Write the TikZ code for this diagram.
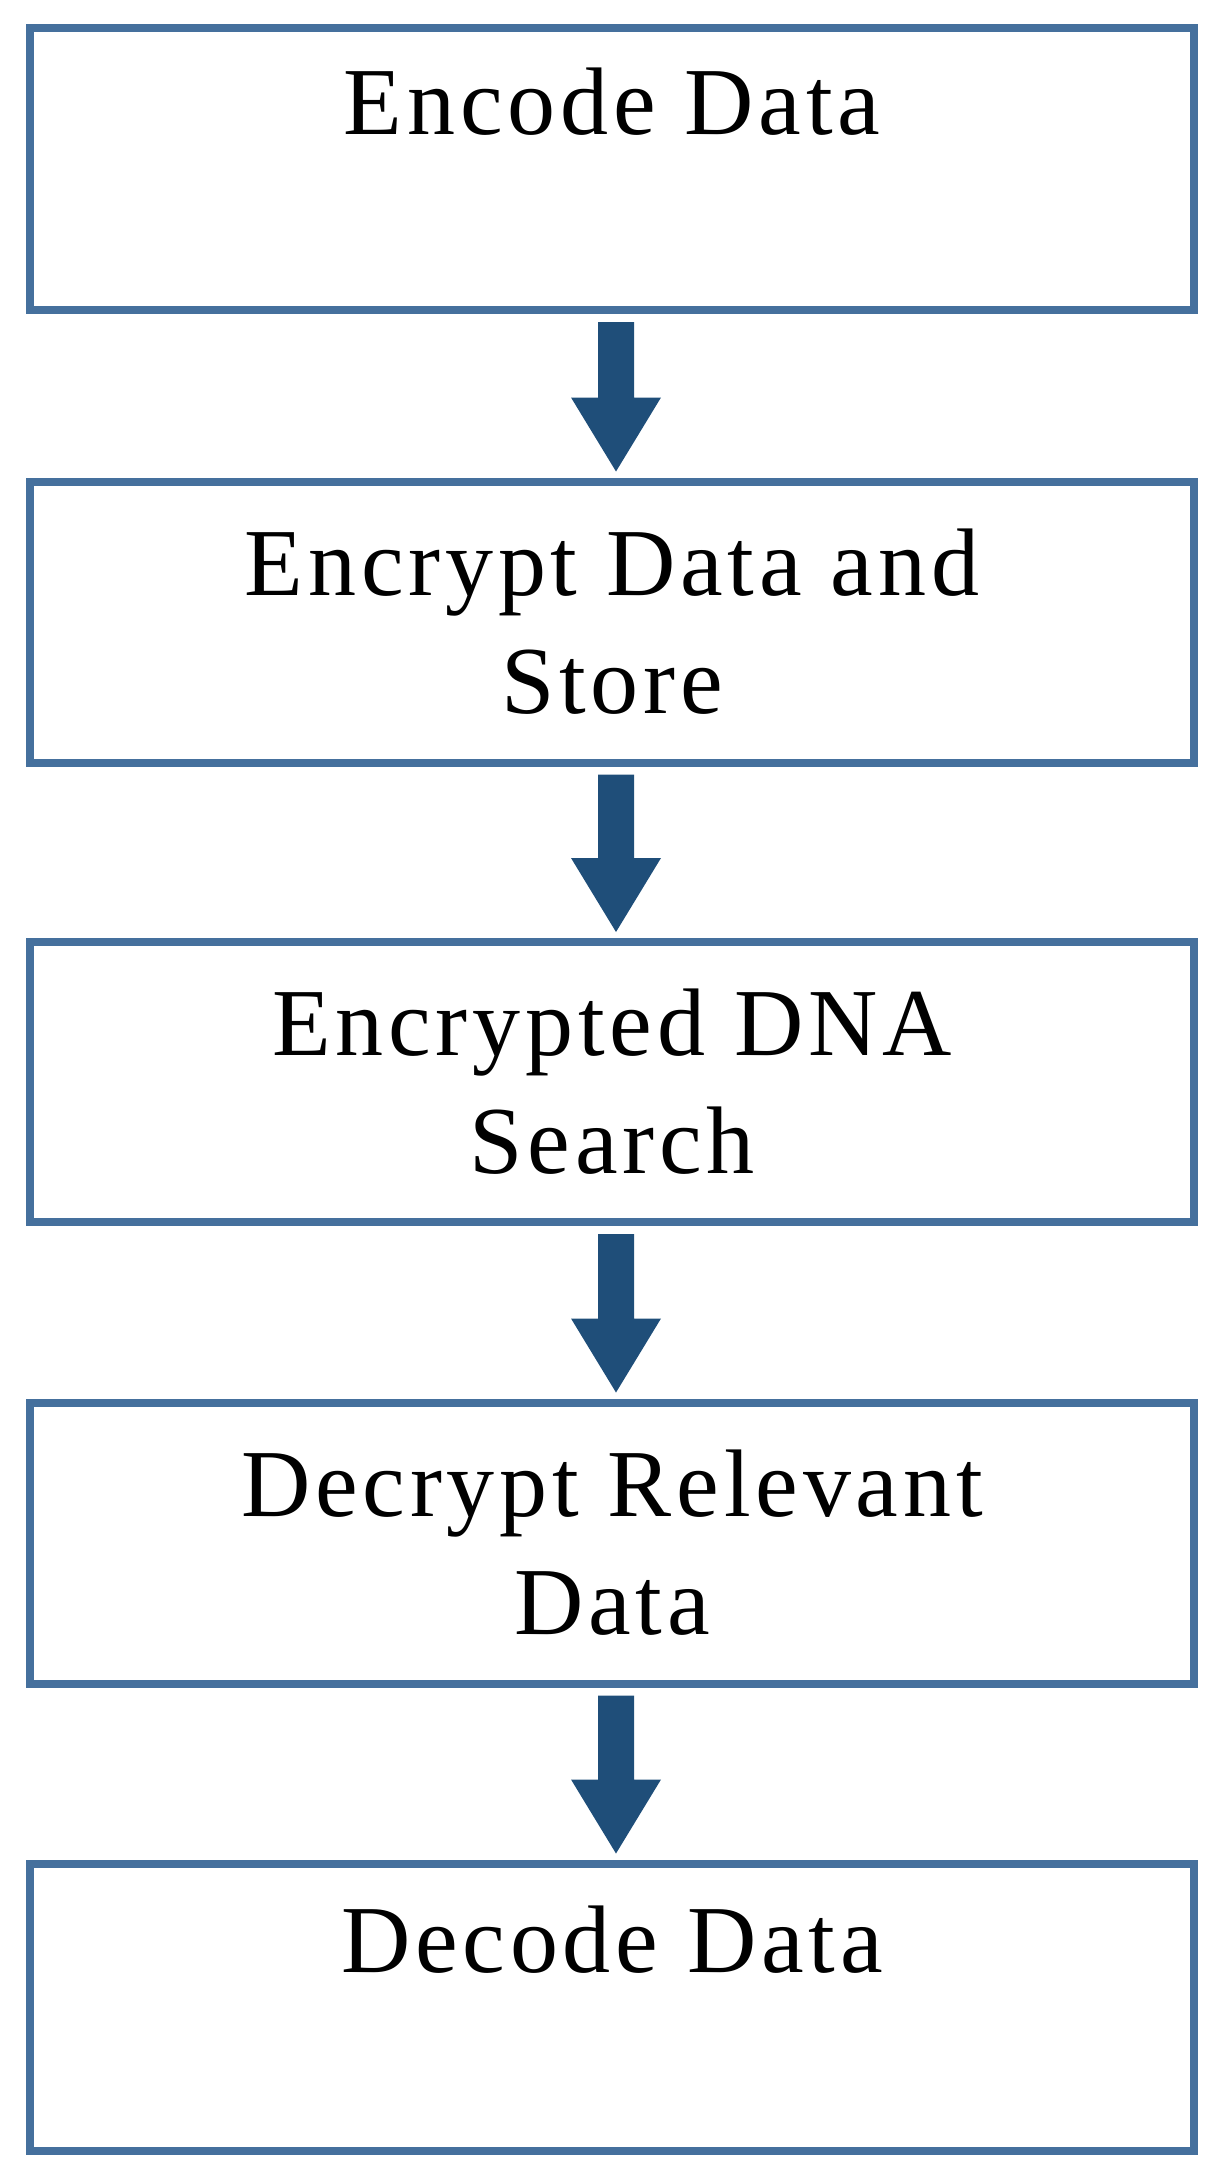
\documentclass[tikz,border=0pt]{standalone}
\usepackage{fontspec}
\setmainfont{Liberation Serif}[LetterSpace=5]
\usetikzlibrary{calc}
\begin{document}
\begin{tikzpicture}[x=1pt,y=-1pt,
  box/.style={draw=boxblue,line width=8pt,minimum width=1164pt,inner sep=0pt,align=center,
    font=\fontsize{96}{118}\selectfont},
  arr/.style={fill=arrblue,draw=none}]
\definecolor{boxblue}{HTML}{45709D}
\definecolor{arrblue}{HTML}{1F4E79}
\useasboundingbox (0,0) rectangle (1219,2168);
\node[box,minimum height=282pt] (b1) at (612,169) {Encode Data\\[-118pt]\strut\\[18pt]};
\node[box,minimum height=281pt] (b2) at (612,622) {Encrypt Data and\\Store};
\node[box,minimum height=280pt] (b3) at (612,1082) {Encrypted DNA\\Search};
\node[box,minimum height=281pt] (b4) at (612,1543) {Decrypt Relevant\\Data};
\node[box,minimum height=287pt] (b5) at (612,2007) {Decode Data\\[-118pt]\strut\\[18pt]};
\foreach \a/\b in {b1/b2,b2/b3,b3/b4,b4/b5}{
  \path (\a.south) ++(4,8) coordinate (s) (\b.north) ++(4,-6) coordinate (t);
  \fill[arr] ($(s)+(-18,0)$) -- ($(s)+(18,0)$) -- ($(t)+(18,-74)$) -- ($(t)+(45,-74)$) -- (t)
    -- ($(t)+(-45,-74)$) -- ($(t)+(-18,-74)$) -- cycle;
}
\end{tikzpicture}
\end{document}
